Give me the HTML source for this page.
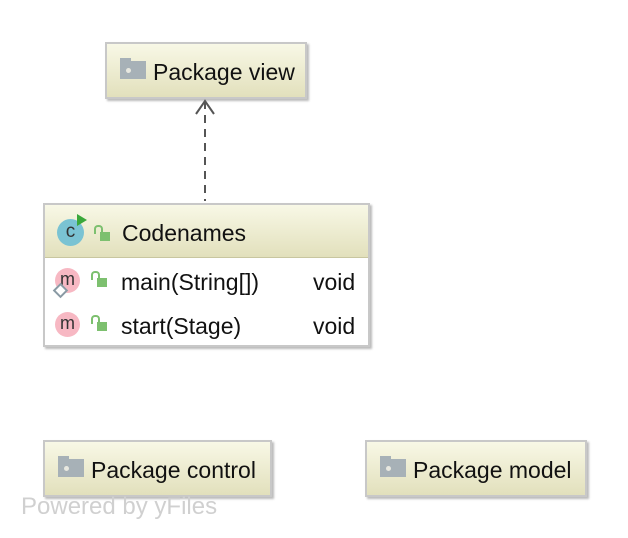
<!DOCTYPE html><html><head><style>
body{margin:0;width:628px;height:538px;background:#fff;position:relative;font-family:"Liberation Sans","DejaVu Sans",sans-serif;overflow:hidden}
.b{position:absolute;box-sizing:border-box;border:2px solid #c8c8c8;box-shadow:2px 2px 2px #bbb}
.pk{background:linear-gradient(#f8f8e6,#e2e0bc);font-size:23px;color:#111}
.pk span{position:absolute;top:15px}
.fold{position:absolute;top:17px;width:26px;height:18px;background:#a7b1b7}
.fold:before{content:"";position:absolute;top:-3px;left:0;width:11px;height:4px;background:#a7b1b7}
.fold:after{content:"";position:absolute;top:7px;left:6px;width:5px;height:5px;border-radius:50%;background:#e8e8e0}
.t{position:absolute;font-size:23px;color:#111}
.m{position:absolute;width:25px;height:25px;border-radius:50%;background:#f7b8c3;font-size:18px;text-align:center;line-height:22px;color:#333}
.lk{position:absolute;width:10px;height:9px;background:#7dc06f}
.lk:before{content:"";position:absolute;left:-6px;top:-7px;width:5px;height:7px;border:2px solid #7dc06f;border-bottom:none;border-radius:4px 4px 0 0}
</style></head><body>
<div class="b pk" style="left:105px;top:42px;width:202px;height:57px"><div class="fold" style="left:13px"></div><span style="left:46px">Package view</span></div>
<svg style="position:absolute;left:0;top:0" width="628" height="538"><line x1="205" y1="101" x2="205" y2="201" stroke="#555" stroke-width="2" stroke-dasharray="8,6"/><polyline points="196,114 205,101 214,114" fill="none" stroke="#555" stroke-width="2"/></svg>
<div class="b" style="left:43px;top:203px;width:327px;height:144px;background:#fff">
<div style="position:absolute;left:0;top:0;right:0;height:52px;background:linear-gradient(#f8f8e6,#e2e0bc);border-bottom:1px solid #c8c6a0"></div>
<div style="position:absolute;left:12px;top:14px;width:27px;height:27px;border-radius:50%;background:#7ac3d3;text-align:center;line-height:26px;font-size:19px;color:#333">c</div>
<div style="position:absolute;left:32px;top:9px;width:0;height:0;border-left:10px solid #3aa83a;border-top:6px solid transparent;border-bottom:6px solid transparent"></div>
<div class="lk" style="left:55px;top:27px"></div>
<div class="t" style="left:77px;top:15px">Codenames</div>
<div class="m" style="left:10px;top:63px">m</div>
<div style="position:absolute;left:10px;top:80px;width:7px;height:7px;border:2px solid #8a9aa4;transform:rotate(45deg);background:#fff"></div>
<div class="lk" style="left:52px;top:73px"></div>
<div class="t" style="left:76px;top:64px">main(String[])</div><div class="t" style="left:268px;top:64px">void</div>
<div class="m" style="left:10px;top:107px">m</div>
<div class="lk" style="left:52px;top:117px"></div>
<div class="t" style="left:76px;top:108px">start(Stage)</div><div class="t" style="left:268px;top:108px">void</div>
</div>
<div class="b pk" style="left:43px;top:440px;width:229px;height:57px"><div class="fold" style="left:13px"></div><span style="left:46px">Package control</span></div>
<div class="b pk" style="left:365px;top:440px;width:222px;height:57px"><div class="fold" style="left:13px"></div><span style="left:46px">Package model</span></div>
<div style="position:absolute;left:21px;top:493px;font-size:24px;color:#d0d0d0">Powered by yFiles</div>
</body></html>
